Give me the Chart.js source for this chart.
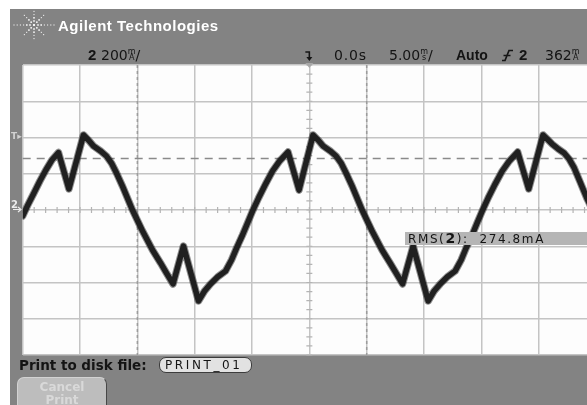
<!DOCTYPE html>
<html>
<head>
<meta charset="utf-8">
<script src="https://cdn.jsdelivr.net/npm/chart.js@4/dist/chart.umd.min.js"></script>
<style>
  html, body { margin: 0; padding: 0; width: 587px; height: 405px; overflow: hidden; background: #fff; }
  #wrap { position: relative; width: 587px; height: 405px; overflow: hidden; }
  #scope { position: absolute; left: 0; top: 0; }
  .lbl { position: absolute; line-height: 1; white-space: pre; font-family: "DejaVu Sans", sans-serif; font-size: 14px; color: #141414; }
  .bold { font-family: "Liberation Sans", Arial, sans-serif; font-weight: bold; }
  .unit { display: inline-block; font-size: 8px; line-height: 6.5px; text-align: center; vertical-align: baseline; }
</style>
</head>
<body>
<div id="wrap">
  <canvas id="scope" width="600" height="405"></canvas>

  <!-- header -->
  <div class="lbl bold" style="left:58px;top:18px;font-size:15px;color:#fff;letter-spacing:0.5px;">Agilent Technologies</div>
  <div class="lbl bold" style="left:88px;top:47px;font-size:15px;">2</div>
  <div class="lbl" style="left:101px;top:48px;">200<span class="unit">m<br>A</span>/</div>
  <div class="lbl" style="left:334px;top:48px;letter-spacing:0.8px;">0.0s</div>
  <div class="lbl" style="left:389px;top:48px;">5.00<span class="unit">m<br>s</span>/</div>
  <div class="lbl bold" style="left:456px;top:48px;">Auto</div>
  <div class="lbl bold" style="left:519px;top:47px;font-size:15px;">2</div>
  <div class="lbl" style="left:545px;top:48px;">362<span class="unit">m<br>A</span></div>

  <!-- side markers -->
  <div class="lbl" style="left:11px;top:132px;font-size:9px;font-weight:bold;color:#d2d2d2;">T▸</div>
  <div class="lbl" style="left:11px;top:200px;font-size:10px;font-weight:bold;color:#ececec;">2</div>

  <!-- measurement -->
  <div class="lbl" style="left:405px;top:232px;width:190px;height:13px;background:#b5b5b5;font-size:12px;line-height:13px;padding-left:3px;letter-spacing:1.6px;">RMS(<b style="font-size:14px;">2</b>):  274.8mA</div>

  <!-- bottom softkeys -->
  <div class="lbl" style="left:19px;top:359px;font-size:13.5px;font-weight:bold;">Print to disk file:</div>
  <div class="lbl" style="left:159px;top:357px;width:86px;height:14px;border:1px solid #3c3c3c;border-radius:7px;background:#e2e2e2;font-size:12px;line-height:14px;padding-left:5px;letter-spacing:2.6px;">PRINT_01</div>
  <div class="lbl" style="left:17px;top:377px;width:88px;height:40px;border:1px solid #d2d2d2;border-right-color:#474747;border-bottom-color:#474747;border-radius:7px;background:#bdbdbd;font-size:12px;font-weight:bold;line-height:12.5px;padding-top:3px;text-align:center;color:#d9d9d9;">Cancel
Print</div>
</div>

<script>
// current probe trace, 5 ms/div, 200 mA/div
const timeMs = [-25.0, -24.55, -24.02, -23.50, -22.98, -22.45, -21.88, -20.97, -19.70, -19.27,
  -18.83, -18.22, -17.70, -17.26, -16.82, -16.30, -15.43, -14.55, -13.68, -12.98,
  -12.46, -11.89, -10.98, -9.67, -9.14, -8.62, -8.01, -7.31, -6.79, -6.35,
  -5.83, -5.39, -4.96, -4.43, -3.82, -3.21, -2.60, -1.86, -0.90, 0.32,
  0.76, 1.20, 1.81, 2.33, 2.77, 3.20, 3.73, 4.60, 5.47, 6.34,
  7.04, 7.57, 8.13, 9.05, 10.36, 10.88, 11.41, 12.02, 12.71, 13.24,
  13.67, 14.20, 14.63, 15.07, 15.59, 16.20, 16.82, 17.43, 18.17, 19.13,
  20.38, 20.74, 21.18, 21.70, 22.22, 22.66, 23.10, 23.62, 24.23, 25.0];
const currentMa = [-33, 28, 94, 160, 221, 276, 317, 116, 414, 386,
  353, 326, 298, 259, 204, 132, 0, -116, -221, -292,
  -348, -408, -199, -502, -447, -408, -370, -337, -276, -210,
  -138, -72, -6, 66, 143, 215, 270, 320, 110, 414,
  386, 353, 326, 298, 259, 204, 132, 0, -116, -221,
  -292, -348, -408, -199, -502, -447, -408, -370, -337, -276,
  -210, -138, -72, -6, 66, 143, 215, 270, 320, 116,
  414, 392, 364, 337, 314, 281, 232, 154, 61, -39];

// screen ranges and cursors
const xRange = [-25, 25];
const yRange = [-800, 800];
const timeCursors = [-15, 5];
const levelCursor = 284;

const FRAME_GRAY = '#838383';
const GRID_GRAY = '#c4c4c4';

const points = timeMs.map((t, i) => ({ x: t, y: currentMa[i] }));

// frame, cursors, center ticks and logo
const scopeFrame = {
  id: 'scopeFrame',
  beforeDraw(chart) {
    const { ctx, chartArea: a } = chart;
    ctx.save();
    ctx.fillStyle = '#ffffff';
    ctx.fillRect(0, 0, chart.width, chart.height);
    ctx.fillStyle = FRAME_GRAY;
    ctx.fillRect(10, 9, chart.width - 10, chart.height - 9);
    ctx.fillStyle = '#fdfdfd';
    ctx.fillRect(a.left, a.top, a.right - a.left, a.bottom - a.top);
    ctx.restore();
  },
  beforeDatasetsDraw(chart) {
    const { ctx, chartArea: a, scales } = chart;
    const xs = scales.x, ys = scales.y;
    const cx = xs.getPixelForValue(0), cy = ys.getPixelForValue(0);
    ctx.save();

    // minor ticks on the center axes
    ctx.strokeStyle = '#b4b4b4';
    ctx.lineWidth = 1.2;
    ctx.beginPath();
    for (let t = xRange[0]; t <= xRange[1]; t += 1) {
      const px = xs.getPixelForValue(t);
      ctx.moveTo(px, cy - 3);
      ctx.lineTo(px, cy + 3);
    }
    for (let v = yRange[0]; v <= yRange[1]; v += 50) {
      const py = ys.getPixelForValue(v);
      ctx.moveTo(cx - 3, py);
      ctx.lineTo(cx + 3, py);
    }
    ctx.stroke();

    // time cursors
    ctx.strokeStyle = '#9c9c9c';
    ctx.lineWidth = 1.5;
    ctx.setLineDash([3, 3]);
    ctx.beginPath();
    for (const t of timeCursors) {
      const px = xs.getPixelForValue(t);
      ctx.moveTo(px, a.top);
      ctx.lineTo(px, a.bottom);
    }
    ctx.stroke();

    // level cursor
    ctx.strokeStyle = '#8a8a8a';
    ctx.setLineDash([8, 6]);
    ctx.beginPath();
    const ly = ys.getPixelForValue(levelCursor);
    ctx.moveTo(a.left, ly);
    ctx.lineTo(a.right, ly);
    ctx.stroke();
    ctx.restore();
  },
  afterDraw(chart) {
    const { ctx, scales } = chart;
    const cx = scales.x.getPixelForValue(0);
    ctx.save();

    // starburst logo
    ctx.fillStyle = '#f2f2f2';
    const ox = 34, oy = 25;
    for (let k = 0; k < 8; k++) {
      const ang = k * Math.PI / 4;
      const reach = k % 4 === 0 ? 20 : 15;
      for (let r = 4; r <= reach; r += 3.2) {
        const s = r < 8 ? 1.6 : 1.1;
        ctx.fillRect(ox + Math.cos(ang) * r - s / 2, oy + Math.sin(ang) * r - s / 2, s, s);
      }
    }
    ctx.fillRect(ox - 1, oy - 1, 2, 2);

    // trigger position marker
    ctx.strokeStyle = '#161616';
    ctx.fillStyle = '#161616';
    ctx.lineWidth = 1.6;
    ctx.beginPath();
    ctx.moveTo(cx - 4, 52);
    ctx.lineTo(cx, 52);
    ctx.lineTo(cx, 58);
    ctx.stroke();
    ctx.beginPath();
    ctx.moveTo(cx - 3, 57);
    ctx.lineTo(cx + 3, 57);
    ctx.lineTo(cx, 61);
    ctx.fill();
    ctx.fillStyle = '#a8a8a8';
    ctx.beginPath();
    ctx.moveTo(cx - 4, 63);
    ctx.lineTo(cx + 4, 63);
    ctx.lineTo(cx, 68);
    ctx.fill();

    // rising edge trigger symbol
    ctx.strokeStyle = '#161616';
    ctx.lineWidth = 1.7;
    ctx.beginPath();
    ctx.moveTo(502, 60.5);
    ctx.lineTo(505, 60.5);
    ctx.lineTo(509, 50.5);
    ctx.lineTo(513, 50.5);
    ctx.moveTo(503.5, 55.5);
    ctx.lineTo(510.5, 55.5);
    ctx.stroke();

    // ground arrow for channel 2
    ctx.strokeStyle = '#ececec';
    ctx.lineWidth = 1.2;
    ctx.beginPath();
    ctx.moveTo(13, 209.5);
    ctx.lineTo(21, 209.5);
    ctx.moveTo(18, 207);
    ctx.lineTo(21, 209.5);
    ctx.lineTo(18, 212);
    ctx.stroke();
    ctx.restore();
  }
};

new Chart(document.getElementById('scope'), {
  type: 'line',
  data: {
    datasets: [
      {
        data: points,
        borderColor: 'rgba(35, 35, 35, 0.5)',
        borderWidth: 7.5,
        pointRadius: 0,
        tension: 0,
        borderJoinStyle: 'round',
        borderCapStyle: 'round'
      },
      {
        data: points,
        borderColor: '#1c1c1c',
        borderWidth: 5.5,
        pointRadius: 0,
        tension: 0,
        borderJoinStyle: 'round',
        borderCapStyle: 'round'
      }
    ]
  },
  options: {
    responsive: false,
    devicePixelRatio: 1,
    animation: false,
    events: [],
    layout: { padding: { left: 22.7, top: 65, right: 4, bottom: 50 } },
    plugins: { legend: { display: false }, tooltip: { enabled: false } },
    scales: {
      x: {
        type: 'linear',
        min: xRange[0],
        max: xRange[1],
        ticks: { display: false, stepSize: 5 },
        grid: { color: GRID_GRAY, lineWidth: 1.5, drawTicks: false },
        border: { display: false }
      },
      y: {
        min: yRange[0],
        max: yRange[1],
        ticks: { display: false, stepSize: 200 },
        grid: { color: GRID_GRAY, lineWidth: 1.5, drawTicks: false },
        border: { display: false }
      }
    }
  },
  plugins: [scopeFrame]
});
</script>
</body>
</html>
